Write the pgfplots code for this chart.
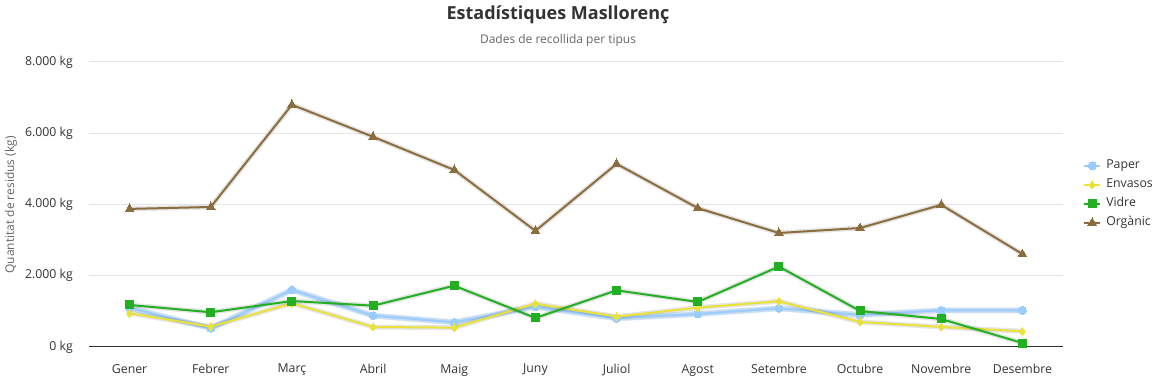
\documentclass[border=0pt]{standalone}
\usepackage{pgfplots}
\pgfplotsset{compat=1.18}
\usepackage{fontspec}
\setmainfont{Open Sans}
\definecolor{paper}{HTML}{99CCFF}
\definecolor{envasos}{HTML}{E8E23A}
\definecolor{vidre}{HTML}{22B022}
\definecolor{organic}{HTML}{8C6D3D}
\definecolor{txt}{HTML}{333333}
\definecolor{sub}{HTML}{666666}
\definecolor{gridc}{HTML}{E6E6E6}
\pgfplotstableread{
x paper envasos vidre organic
0 1100 946 1180 3876
1 525 571 975 3930
2 1600 1227 1290 6800
3 880 562 1160 5900
4 693 543 1720 4970
5 1130 1217 815 3260
6 805 852 1590 5140
7 927 1105 1264 3900
8 1086 1283 2256 3200
9 900 702 1011 3340
10 1030 562 786 3990
11 1030 440 112 2610
}\data
\begin{document}
\begin{tikzpicture}
\useasboundingbox (0pt,0pt) rectangle (1161pt,379pt);
\node[font=\fontsize{18}{21}\selectfont\bfseries, text=txt] at (558pt,364pt) {Estadístiques Masllorenç};
\node[font=\fontsize{12}{14}\selectfont, text=sub] at (558pt,339pt) {Dades de recollida per tipus};
\node[rotate=90, font=\fontsize{12}{14}\selectfont, text=sub] at (11pt,174pt) {Quantitat de residus (kg)};
\begin{axis}[
  at={(89pt,32pt)}, anchor=south west, scale only axis,
  width=974pt, height=285pt,
  xmin=-0.5, xmax=11.5, ymin=0, ymax=8000,
  axis line style={draw=none},
  major tick length=0pt,
  xtick={0,...,11},
  xticklabels={Gener,Febrer,Març,Abril,Maig,Juny,Juliol,Agost,Setembre,Octubre,Novembre,Desembre},
  ytick={0,2000,4000,6000,8000},
  yticklabels={0 kg,2.000 kg,4.000 kg,6.000 kg,8.000 kg},
  ymajorgrids, grid style={draw=gridc, line width=1pt},
  extra y ticks={0}, extra y tick labels={},
  extra y tick style={grid style={draw=txt, line width=1pt}},
  ticklabel style={font=\fontsize{12.3}{14}\selectfont, text=txt},
  yticklabel style={anchor=east, inner sep=0pt, xshift=-16pt},
  xticklabel style={anchor=north, inner sep=0pt, yshift=-17pt},
  legend style={at={(1.0175,0.536)}, anchor=west, draw=none, fill=none,
    font=\fontsize{12.3}{14}\selectfont, text=txt, row sep=7pt, column sep=5pt,
    nodes={inner sep=0pt, text height=9pt, text depth=3pt}},
  legend cell align=left,
  legend image code/.code={\draw[mark repeat=2,mark phase=2,#1] plot coordinates {(0pt,0pt) (8pt,0pt) (16pt,0pt)};},
  shadow/.style={draw=black, opacity=0.10, line width=5pt, no marks, forget plot},
]
\addplot[shadow] table[x=x,y=paper]{\data};
\addplot[draw=paper, opacity=0.35, line width=6pt, no marks, forget plot] table[x=x,y=paper]{\data};
\addplot[paper, line width=2pt, mark=*, mark size=4pt, mark options={fill=paper, draw=paper, line width=0pt}] table[x=x,y=paper]{\data};
\addlegendentry{Paper}
\addplot[shadow] table[x=x,y=envasos]{\data};
\addplot[envasos, line width=2pt, mark=diamond*, mark size=4pt, mark options={fill=envasos, draw=envasos, line width=0pt}] table[x=x,y=envasos]{\data};
\addlegendentry{Envasos}
\addplot[shadow] table[x=x,y=vidre]{\data};
\addplot[vidre, line width=2pt, mark=square*, mark size=4pt, mark options={fill=vidre, draw=vidre, line width=0pt}] table[x=x,y=vidre]{\data};
\addlegendentry{Vidre}
\addplot[shadow] table[x=x,y=organic]{\data};
\addplot[organic, line width=2pt, mark=triangle*, mark size=5pt, mark options={fill=organic, draw=organic, line width=0pt}] table[x=x,y=organic]{\data};
\addlegendentry{Orgànic}
\end{axis}
\end{tikzpicture}
\end{document}
